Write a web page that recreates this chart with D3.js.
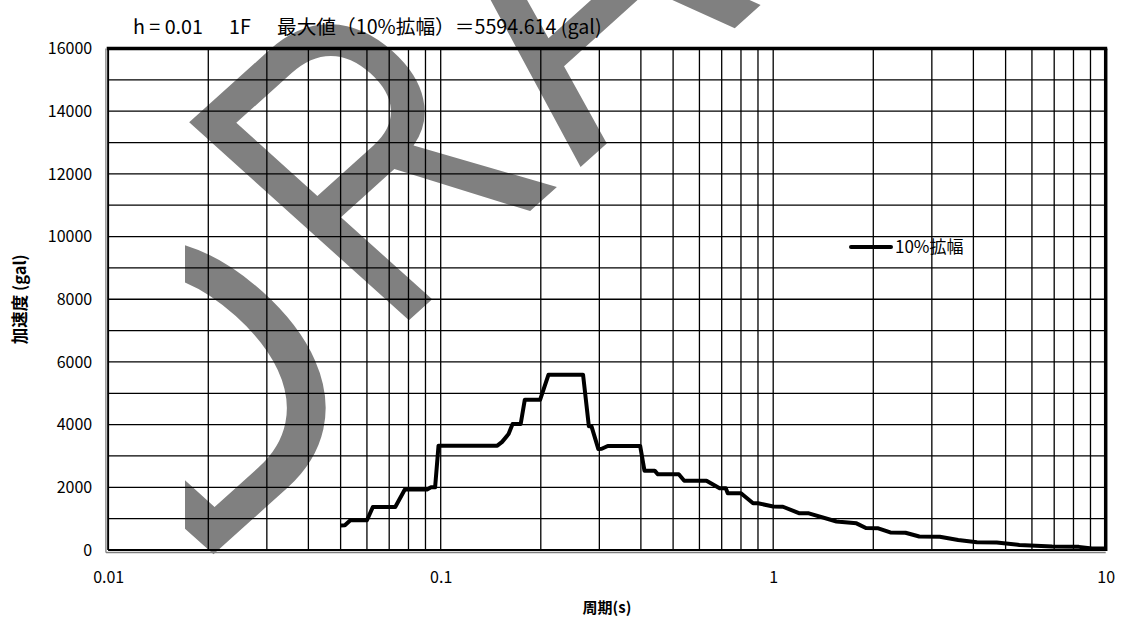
<!DOCTYPE html>
<html>
<head>
<meta charset="utf-8">
<script src="https://cdn.jsdelivr.net/npm/d3@7/dist/d3.min.js"></script>
<style>
  body { margin: 0; background: #fff; }
  svg { display: block; }
</style>
</head>
<body>
<svg id="chart" width="1125" height="620"></svg>
<script>
// Acceleration response spectrum, h = 0.01, 1F (10% broadened)
const periods = [
  0.050, 0.0515, 0.0535, 0.060, 0.0625, 0.073, 0.078, 0.091, 0.0935, 0.0962,
  0.0985, 0.148, 0.153, 0.160, 0.1645, 0.174, 0.179, 0.199, 0.211, 0.268,
  0.279, 0.284, 0.298, 0.305, 0.318, 0.398, 0.410, 0.440, 0.450, 0.520,
  0.540, 0.630, 0.690, 0.720, 0.730, 0.800, 0.870, 0.900, 1.000, 1.070,
  1.200, 1.280, 1.550, 1.580, 1.780, 1.900, 2.070, 2.250, 2.500, 2.750,
  3.170, 3.600, 4.100, 4.700, 5.500, 6.900, 8.300, 9.100, 10.00
];
const accel = [
  780, 790, 950, 950, 1370, 1370, 1930, 1930, 2000, 2000,
  3330, 3330, 3450, 3700, 4020, 4020, 4790, 4790, 5594.614, 5594.614,
  3950, 3950, 3220, 3230, 3320, 3320, 2530, 2530, 2415, 2415,
  2210, 2210, 1970, 1970, 1810, 1810, 1490, 1490, 1390, 1380,
  1170, 1170, 910, 900, 850, 700, 690, 560, 550, 430,
  425, 320, 250, 240, 160, 110, 100, 50, 45
];

const xTickValues = [0.01, 0.1, 1, 10];
const xTickLabels = ["0.01", "0.1", "1", "10"];
const yTickValues = [0, 2000, 4000, 6000, 8000, 10000, 12000, 14000, 16000];
const yMinorValues = [1000, 3000, 5000, 7000, 9000, 11000, 13000, 15000];

const seriesName = "10%拡幅";
const titleParts = ["h = 0.01", "1F", "最大値（10%拡幅）＝5594.614 (gal)"];
const xAxisTitle = "周期(s)";
const yAxisTitle = "加速度 (gal)";
const watermarkLetters = ["D", "R", "A", "F", "T"];

const svg = d3.select("#chart");
const W = 1125, H = 620;
const plot = { left: 108.2, right: 1105.7, top: 48.5, bottom: 550 };

const x = d3.scaleLog().domain([0.01, 10]).range([plot.left, plot.right]);
const y = d3.scaleLinear().domain([0, 16000]).range([plot.bottom, plot.top]);

const uiFont = "'Noto Sans CJK JP', 'Noto Sans', sans-serif";

// ---- watermark (behind everything) ----
svg.append("defs").append("clipPath").attr("id", "wmClip")
  .append("rect").attr("x", 185).attr("y", 0).attr("width", W - 185).attr("height", H);

// per-letter placement in the rotated frame: origin x, baseline y, squeeze / stretch
const wmPlace = [
  { lx: -286, ly: 528, kx: 0.90, ky: 1.08 },
  { lx: 8,    ly: 487, kx: 0.78, ky: 1.0 },
  { lx: 251,  ly: 488, kx: 0.85, ky: 1.0 },
  { lx: 482,  ly: 488, kx: 0.85, ky: 1.0 },
  { lx: 693,  ly: 488, kx: 0.85, ky: 1.0 }
];
const wm = svg.append("g").attr("clip-path", "url(#wmClip)");
wm.selectAll("text").data(watermarkLetters).join("text")
  .attr("transform", (d, i) => {
    const p = wmPlace[i];
    return `scale(1.11,1) rotate(-45) translate(${p.lx},${p.ly}) scale(${p.kx},${p.ky})`;
  })
  .attr("font-family", "'Liberation Sans', Arial, sans-serif")
  .attr("font-size", 407)
  .attr("fill", "#808080")
  .text(d => d);

// ---- grid ----
const grid = svg.append("g").attr("stroke", "#000").attr("stroke-width", 1.3).attr("fill", "none");
const xMinor = [];
[0.01, 0.1, 1].forEach(dec => { for (let m = 1; m <= 9; m++) xMinor.push(dec * m); });
xMinor.push(10);
grid.selectAll("line.v").data(xMinor).join("line").attr("class", "v")
  .attr("x1", d => x(d)).attr("x2", d => x(d))
  .attr("y1", plot.top).attr("y2", plot.bottom);
grid.selectAll("line.h").data(yTickValues.concat(yMinorValues)).join("line").attr("class", "h")
  .attr("x1", plot.left).attr("x2", plot.right)
  .attr("y1", d => y(d)).attr("y2", d => y(d));

// ---- frame ----
const frame = svg.append("g").attr("fill", "none");
frame.append("line").attr("x1", plot.left - 1.5).attr("x2", plot.right + 1.5)
  .attr("y1", plot.top).attr("y2", plot.top).attr("stroke", "#000").attr("stroke-width", 3.5);
frame.append("line").attr("x1", plot.right).attr("x2", plot.right)
  .attr("y1", plot.top).attr("y2", plot.bottom + 1).attr("stroke", "#000").attr("stroke-width", 3.5);
frame.append("line").attr("x1", plot.left).attr("x2", plot.left)
  .attr("y1", plot.top).attr("y2", plot.bottom).attr("stroke", "#000").attr("stroke-width", 1.8);
frame.append("line").attr("x1", plot.left).attr("x2", plot.right)
  .attr("y1", plot.bottom).attr("y2", plot.bottom).attr("stroke", "#000").attr("stroke-width", 1.8);
// axis lines
frame.append("line").attr("x1", plot.left - 2.3).attr("x2", plot.left - 2.3)
  .attr("y1", plot.top).attr("y2", plot.bottom + 2.5).attr("stroke", "#7f7f7f").attr("stroke-width", 1.3);
frame.append("line").attr("x1", plot.left - 2.3).attr("x2", plot.right)
  .attr("y1", plot.bottom + 2.5).attr("y2", plot.bottom + 2.5).attr("stroke", "#7f7f7f").attr("stroke-width", 1.3);

// ---- series ----
const series = periods.map((p, i) => [p, accel[i]]);
const line = d3.line().x(d => x(d[0])).y(d => y(d[1]));
svg.append("path").datum(series)
  .attr("d", line)
  .attr("fill", "none").attr("stroke", "#000").attr("stroke-width", 4)
  .attr("stroke-linejoin", "round").attr("stroke-linecap", "butt");

// ---- axes ----
const xAxis = d3.axisBottom(x).tickValues(xTickValues)
  .tickFormat((d, i) => xTickLabels[i]).tickSize(0).tickPadding(0);
const gx = svg.append("g").attr("transform", `translate(0,${plot.bottom + 28})`).call(xAxis);
gx.select(".domain").remove();
gx.selectAll("text").attr("font-family", uiFont).attr("font-size", 16).attr("fill", "#000")
  .attr("dy", "0.32em");

const yAxis = d3.axisLeft(y).tickValues(yTickValues).tickFormat(d3.format("d")).tickSize(0).tickPadding(0);
const gy = svg.append("g").attr("transform", `translate(${plot.left - 16},0)`).call(yAxis);
gy.select(".domain").remove();
gy.selectAll("text").attr("font-family", uiFont).attr("font-size", 16).attr("fill", "#000");

// ---- titles ----
const title = svg.append("text").attr("y", 34).attr("font-family", uiFont)
  .attr("font-size", 19.7).attr("fill", "#000");
title.append("tspan").attr("x", 133).text(titleParts[0]);
title.append("tspan").attr("x", 229).text(titleParts[1]);
title.append("tspan").attr("x", 277).text(titleParts[2]);

svg.append("text").attr("x", (plot.left + plot.right) / 2).attr("y", 613)
  .attr("text-anchor", "middle").attr("font-family", uiFont)
  .attr("font-size", 15).attr("font-weight", "bold").text(xAxisTitle);

svg.append("text").attr("transform", `translate(26,${(plot.top + plot.bottom) / 2}) rotate(-90)`)
  .attr("text-anchor", "middle").attr("font-family", uiFont)
  .attr("font-size", 16.5).attr("font-weight", "bold").text(yAxisTitle);

// ---- legend ----
const lg = svg.append("g").attr("transform", "translate(851,247)");
lg.append("line").attr("x1", 0).attr("x2", 40).attr("y1", 0).attr("y2", 0)
  .attr("stroke", "#000").attr("stroke-width", 4).attr("stroke-linecap", "round");
lg.append("text").attr("x", 44).attr("y", 0).attr("dy", "0.35em")
  .attr("font-family", uiFont).attr("font-size", 17).attr("fill", "#000").text(seriesName);
</script>
</body>
</html>
